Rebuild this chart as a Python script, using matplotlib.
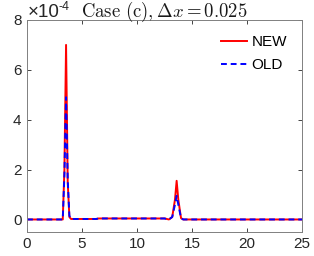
import matplotlib
matplotlib.use('Agg')
import matplotlib.pyplot as plt

plt.rcParams['font.family'] = ['Liberation Sans', 'DejaVu Sans']
plt.rcParams['mathtext.fontset'] = 'cm'

# values in units of 1e-4
x_new = [0, 3.25, 3.4, 3.55, 3.7, 3.85, 4.0, 6.3, 6.5, 12.5, 12.9, 13.2, 13.45, 13.6, 13.75, 14.0, 14.2, 25]
y_new = [0, 0, 2.0, 7.0, 1.5, 0.1, 0.02, 0.02, 0.04, 0.04, 0.0, 0.1, 0.8, 1.55, 0.8, 0.05, 0.0, 0.0]

x_old = [0, 3.25, 3.4, 3.55, 3.7, 3.85, 4.0, 6.3, 6.5, 12.5, 12.9, 13.2, 13.45, 13.6, 13.75, 14.0, 14.2, 25]
y_old = [0, 0, 1.8, 4.9, 1.6, 0.15, 0.02, 0.02, 0.04, 0.04, 0.0, 0.1, 0.6, 0.95, 0.6, 0.05, 0.0, 0.0]

xticks = [0, 5, 10, 15, 20, 25]
yticks = [0, 2, 4, 6, 8]

fig = plt.figure(figsize=(3.14, 2.56), dpi=100)
ax = fig.add_axes([0.086, 0.094, 0.876, 0.828])

ax.plot(x_new, y_new, color='red', lw=1.4, label='NEW')
ax.plot(x_old, y_old, color='blue', lw=1.4, ls=(0, (3, 2)), label='OLD')

ax.set_xlim(0, 25)
ax.set_ylim(-0.5, 8)
ax.set_xticks(xticks)
ax.set_yticks(yticks)
ax.tick_params(direction='in', length=3, width=0.6, labelsize=11, colors='0.15',
               top=True, right=True, pad=4)
for s in ax.spines.values():
    s.set_color('0.5')
    s.set_linewidth(0.7)

# MATLAB-style exponent label (sans-serif)
fig.text(28 / 314, 1 - 17 / 256, '\u00d710', fontsize=13.5, ha='left', va='baseline', color='0.15')
fig.text(58.5 / 314, 1 - 10 / 256, '-4', fontsize=9, ha='left', va='baseline', color='0.15')
ax.set_title(r'$\mathrm{Case\ (c)}, \Delta x = 0.025$', fontsize=13.5, pad=2, color='0.1')

ax.legend(loc='upper right', frameon=False, fontsize=11, handlelength=1.7,
          handletextpad=0.3, borderaxespad=0.6, labelspacing=0.6)

fig.savefig('out.png', dpi=100)
